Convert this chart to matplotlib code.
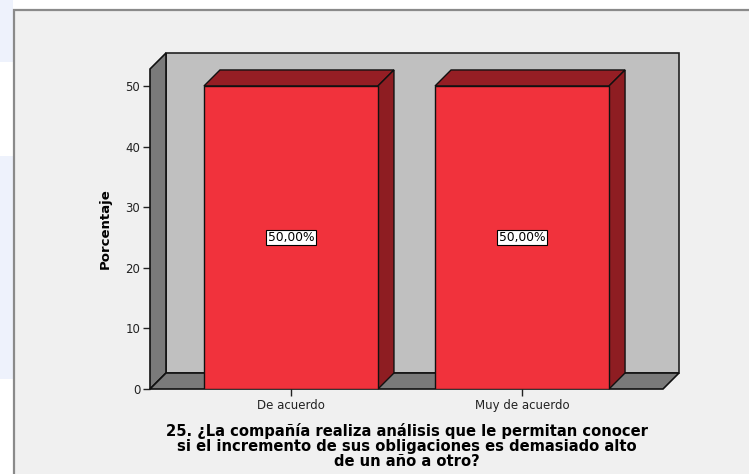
import matplotlib.pyplot as plt
from matplotlib.patches import Polygon, Rectangle

categorias = ['De acuerdo', 'Muy de acuerdo']
porcentajes = [50.0, 50.0]
etiquetas = ['50,00%', '50,00%']
yticks = [0, 10, 20, 30, 40, 50]
titulo = ('25. ¿La compañía realiza análisis que le permitan conocer\n'
          'si el incremento de sus obligaciones es demasiado alto\n'
          'de un año a otro?')

W, H = 749, 474
fig = plt.figure(figsize=(W / 100, H / 100), dpi=100)
fig.patch.set_facecolor('white')

# marco del visor (detrás de los ejes)
fig.patches.append(Rectangle((0, 0.87), 13 / W, 0.13, transform=fig.transFigure,
                             facecolor='#EEF2FC', edgecolor='none', zorder=-2))
fig.patches.append(Rectangle((0, 0.2), 13 / W, 0.47, transform=fig.transFigure,
                             facecolor='#EEF2FC', edgecolor='none', zorder=-2))
fig.patches.append(Rectangle((13.5 / W, -0.01), 1, (H - 9.5) / H + 0.01,
                             transform=fig.transFigure, facecolor='#F0F0F0',
                             edgecolor='#8A8A8A', linewidth=1.6, zorder=-1))

ax = fig.add_axes([150 / W, 1 - 389 / H, 513 / W, 320 / H])
xmin, xmax = -0.61, 1.61
ytop = 52.8
ax.set_xlim(xmin, xmax)
ax.set_ylim(0, ytop)
ax.patch.set_alpha(0)

dx = 16 / 231
dy = 16 / 6.06
ancho = 0.753

# pared trasera, pared izquierda y suelo
ax.add_patch(Rectangle((xmin + dx, dy), xmax - xmin, ytop, facecolor='#C0C0C0',
                       edgecolor='#222222', linewidth=1.2, clip_on=False, zorder=1))
ax.add_patch(Polygon([(xmin, 0), (xmin + dx, dy), (xmin + dx, ytop + dy), (xmin, ytop)],
                     facecolor='#7A7A7A', edgecolor='#111111', linewidth=1.2,
                     clip_on=False, zorder=2))
ax.add_patch(Polygon([(xmin, 0), (xmax, 0), (xmax + dx, dy), (xmin + dx, dy)],
                     facecolor='#7A7A7A', edgecolor='#111111', linewidth=1.2,
                     clip_on=False, zorder=2))

pos = list(range(len(categorias)))
ax.bar(pos, porcentajes, width=ancho, color='#F1323C', edgecolor='#111111',
       linewidth=1.0, zorder=4)
for x, v, t in zip(pos, porcentajes, etiquetas):
    x0, x1 = x - ancho / 2, x + ancho / 2
    ax.add_patch(Polygon([(x0, v), (x0 + dx, v + dy), (x1 + dx, v + dy), (x1, v)],
                         facecolor='#951E24', edgecolor='#111111', linewidth=1.0,
                         clip_on=False, zorder=3))
    ax.add_patch(Polygon([(x1, 0), (x1 + dx, dy), (x1 + dx, v + dy), (x1, v)],
                         facecolor='#8E1D22', edgecolor='#111111', linewidth=1.0,
                         clip_on=False, zorder=3))
    ax.text(x, v / 2, t, ha='center', va='center', fontsize=8.8, zorder=5,
            bbox=dict(boxstyle='square,pad=0.12', facecolor='white',
                      edgecolor='black', linewidth=0.8))

for s in ax.spines.values():
    s.set_visible(False)
ax.set_yticks(yticks)
ax.set_xticks(pos)
ax.set_xticklabels(categorias)
ax.tick_params(axis='both', direction='out', length=5, width=1, labelsize=8.5,
               colors='#222222', pad=2)
ax.set_ylabel('Porcentaje', fontsize=9.5, fontweight='bold', labelpad=10)
ax.set_xlabel(titulo, fontsize=10.6, fontweight='bold', labelpad=8, linespacing=1.0)

fig.savefig('out.png', dpi=100)
